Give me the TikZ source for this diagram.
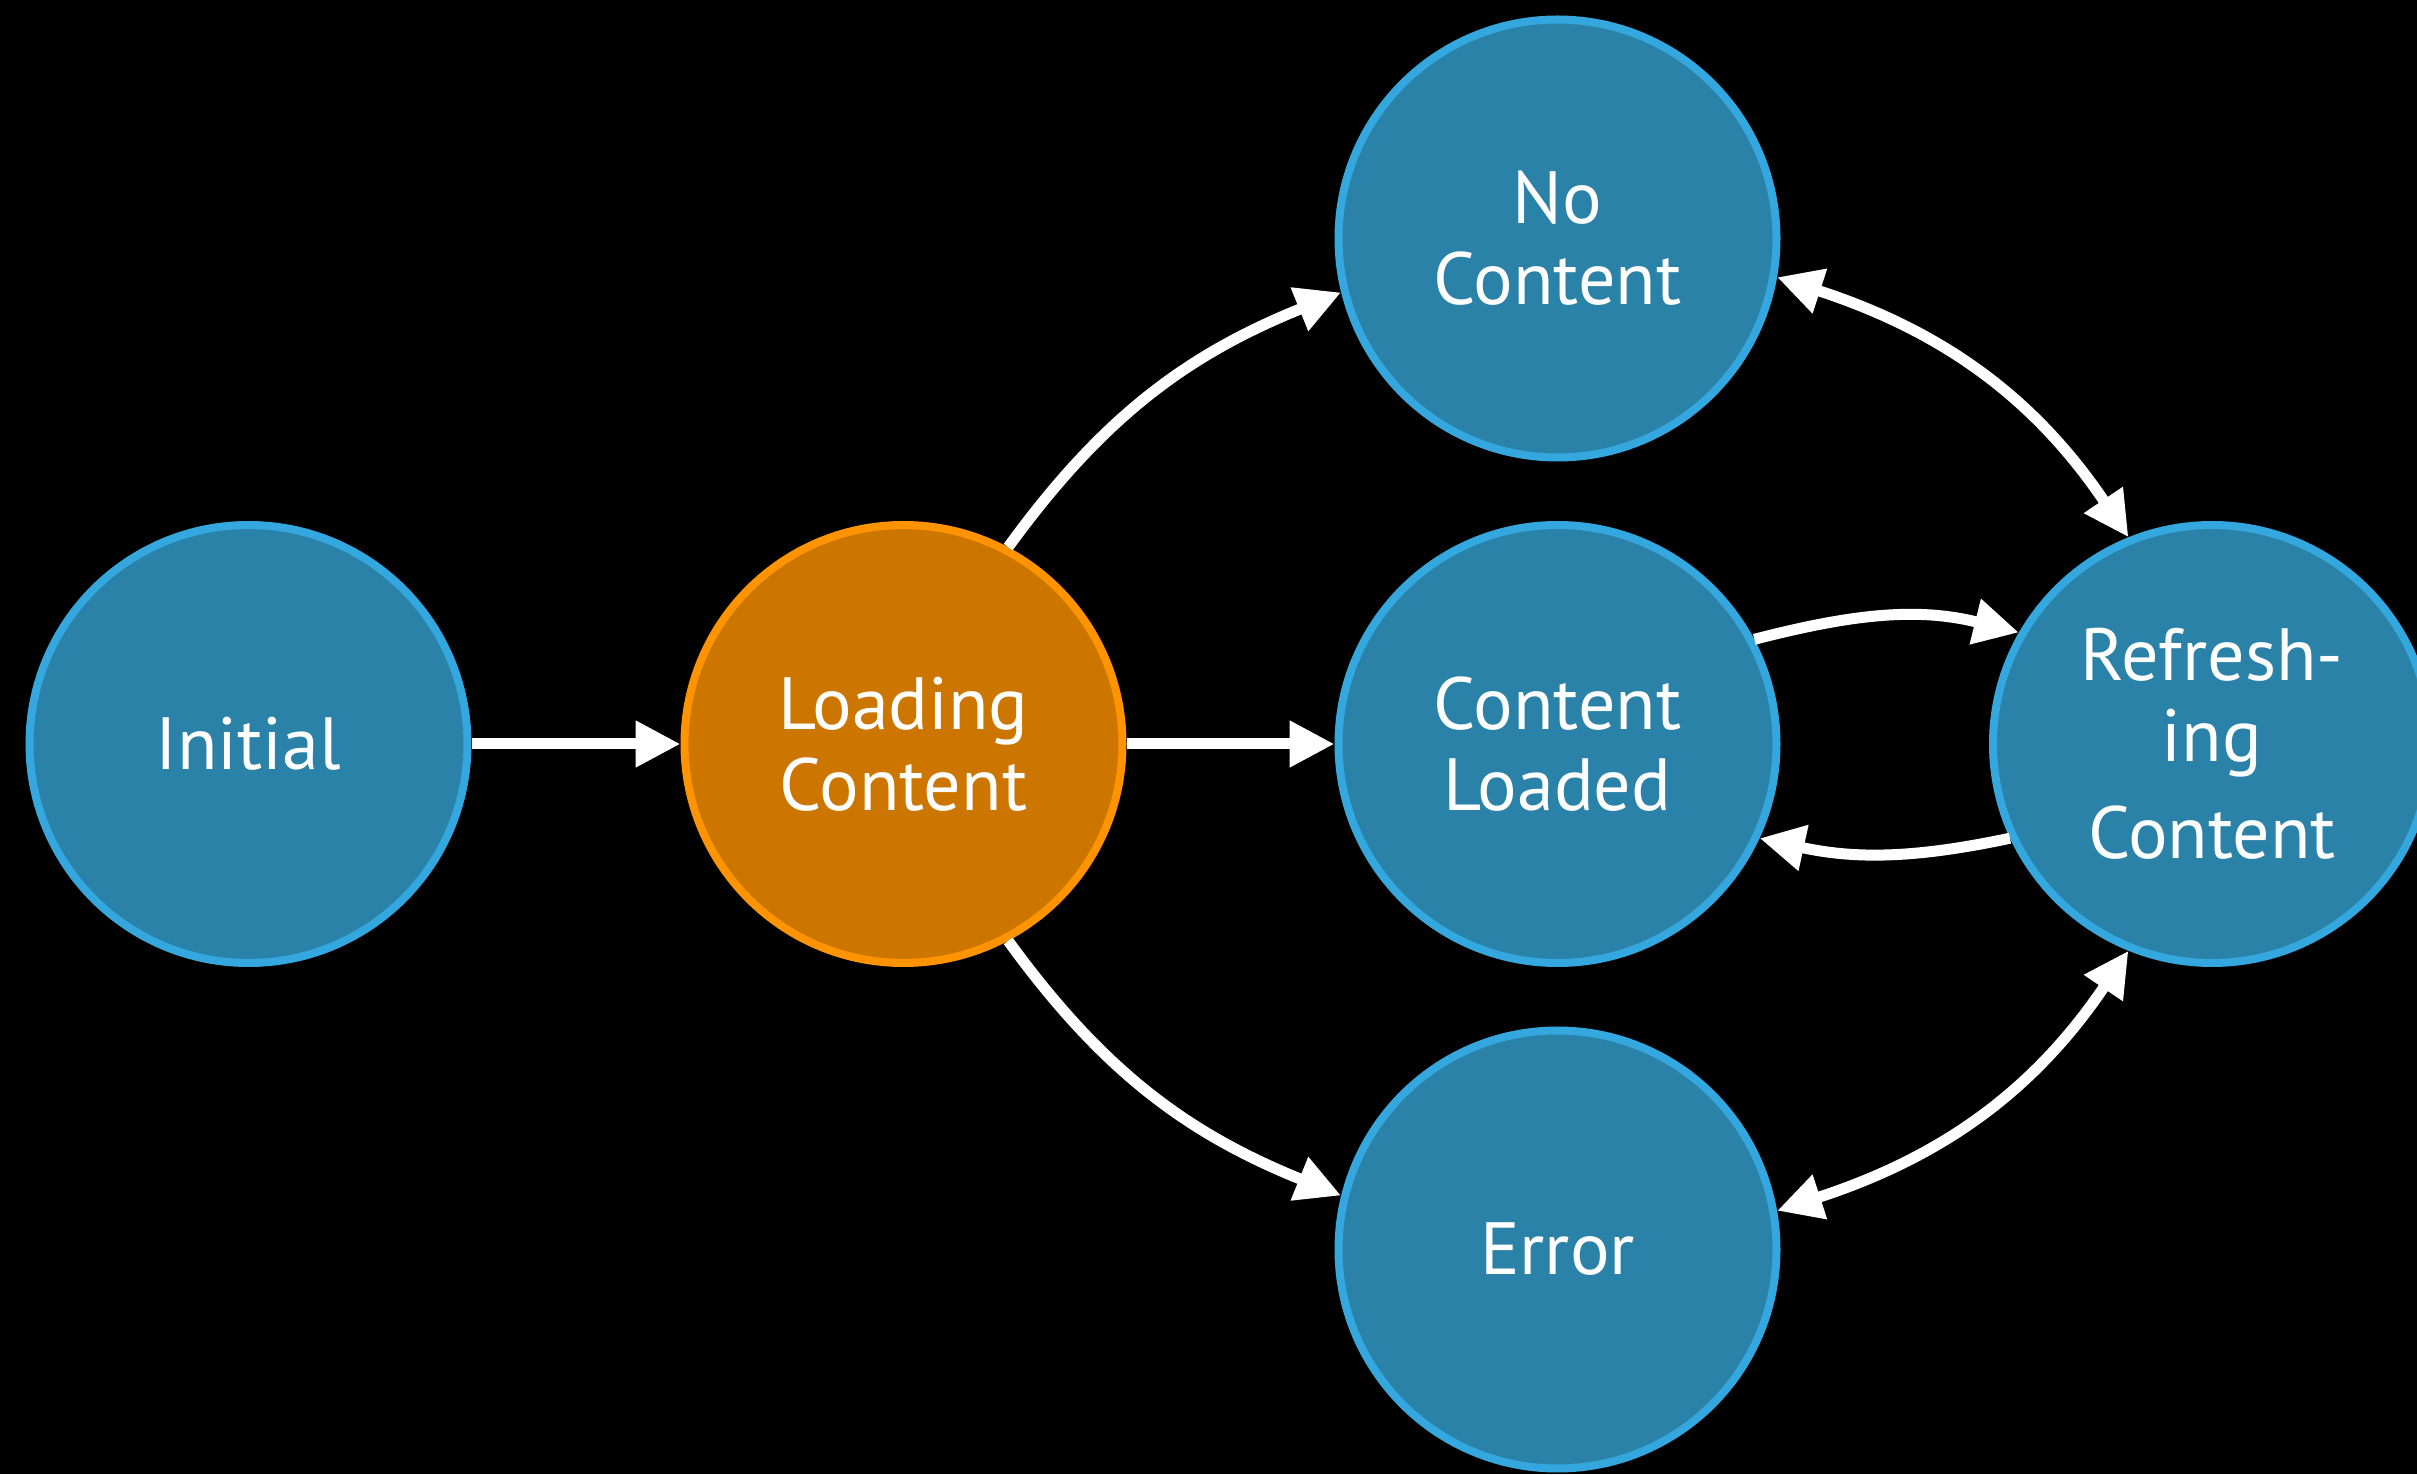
\documentclass[tikz,border=0pt]{standalone}
\usepackage{fontspec}
\setmainfont{PT Sans}
\usetikzlibrary{arrows.meta}
\definecolor{stfill}{RGB}{42,130,168}
\definecolor{stline}{RGB}{52,168,222}
\definecolor{ldfill}{RGB}{204,118,0}
\definecolor{ldline}{RGB}{255,148,0}
\begin{document}
\begin{tikzpicture}[x=0.5pt,y=0.5pt,
  state/.style={circle, draw=stline, fill=stfill, line width=4pt, minimum size=219pt,
    inner sep=0pt, text=white, align=center, font=\fontsize{37}{40.5}\selectfont},
  loadstate/.style={state, draw=ldline, fill=ldfill},
  tipshape/.tip={Triangle[length=22.5pt,width=22pt]},
  conn/.style={draw=white, line width=5.5pt, -tipshape},
  dconn/.style={draw=white, line width=5.5pt, tipshape-tipshape}]
\useasboundingbox (0,0) rectangle (2417,1474);
\fill[black] (0,0) rectangle (2417,1474);
\clip (0,0) rectangle (2417,1474);
\node[state] (ini) at (248.5,730) {Initial};
\node[loadstate] (load) at (903.5,730) {Loading\\Content};
\node[state] (cl) at (1557.5,730) {Content\\Loaded};
\node[state] (nc) at (1557.5,1235.5) {No\\Content};
\node[state] (err) at (1557.5,224.5) {Error};
\node[state] (ref) at (2212,730) {Refresh-\\ing\\[8pt]Content};
\draw[conn] (ini) -- (load);
\draw[conn] (load) -- (cl);
\draw[conn] (load.62) to[out=54, in=202] (nc.194);
\draw[conn] (load.-62) to[out=-54, in=158] (err.166);
\draw[dconn] (nc.-10) to[out=-18, in=124] (ref.112);
\draw[dconn] (err.10) to[out=18, in=-124] (ref.-112);
\draw[conn] (cl.28) to[out=14.5, in=166] (ref.150.6);
\draw[conn] (ref.205) to[out=192, in=-12.4] (cl.-25);
\end{tikzpicture}
\end{document}
